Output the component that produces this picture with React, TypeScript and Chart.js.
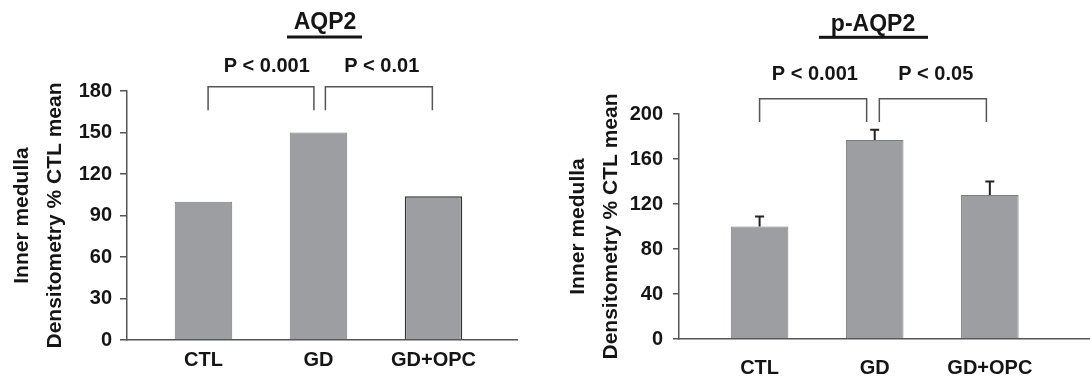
import React, { useEffect, useRef } from "react";
import { Chart, registerables } from "chart.js";

Chart.register(...registerables);

const categories = ["CTL", "GD", "GD+OPC"];

const aqp2Values = [100, 150, 104];
const aqp2Ticks = [0, 30, 60, 90, 120, 150, 180];
const aqp2Comparisons = [
  { from: 0.04, to: 0.96, top: 183, bottom: 166, label: "P < 0.001", labelX: 0.55 },
  { from: 1.06, to: 1.99, top: 183, bottom: 166, label: "P < 0.01", labelX: 1.55 },
];

const paqp2Values = [100, 177, 128];
const paqp2Errors = [9, 9, 12];
const paqp2Ticks = [0, 40, 80, 120, 160, 200];
const paqp2Comparisons = [
  { from: 0.0, to: 0.93, top: 213.6, bottom: 193, label: "P < 0.001", labelX: 0.48 },
  { from: 1.04, to: 1.97, top: 213.6, bottom: 193, label: "P < 0.05", labelX: 1.53 },
];

const yTitleLines = ["Inner medulla", "Densitometry % CTL mean"];

const FONT = "'Liberation Sans', Arial, Helvetica, sans-serif";

const annotPlugin = {
  id: "annot",
  afterDatasetsDraw(chart: any) {
    const o = chart.options.plugins.annot;
    if (!o) return;
    const { ctx, scales } = chart;
    const x = scales.x;
    const y = scales.y;
    ctx.save();
    // error bars
    if (o.errors) {
      ctx.strokeStyle = "#222";
      ctx.lineWidth = 2;
      o.values.forEach((v: number, i: number) => {
        const px = x.getPixelForValue(i);
        const y0 = y.getPixelForValue(v);
        const y1 = y.getPixelForValue(v + o.errors[i]);
        ctx.beginPath();
        ctx.moveTo(px, y0);
        ctx.lineTo(px, y1);
        ctx.moveTo(px - 4.5, y1);
        ctx.lineTo(px + 4.5, y1);
        ctx.stroke();
      });
    }
    // brackets
    ctx.strokeStyle = "#555";
    ctx.lineWidth = 1.5;
    ctx.fillStyle = "#151515";
    ctx.font = `bold 20px ${FONT}`;
    ctx.textAlign = "center";
    ctx.textBaseline = "middle";
    o.comparisons.forEach((c: any) => {
      const x0 = x.getPixelForValue(c.from);
      const x1 = x.getPixelForValue(c.to);
      const yt = y.getPixelForValue(c.top);
      const yb = y.getPixelForValue(c.bottom);
      ctx.beginPath();
      ctx.moveTo(x0, yb);
      ctx.lineTo(x0, yt);
      ctx.lineTo(x1, yt);
      ctx.lineTo(x1, yb);
      ctx.stroke();
      ctx.fillText(c.label, x.getPixelForValue(c.labelX), yt - o.labelGap);
    });
    // title
    ctx.font = `bold 23px ${FONT}`;
    ctx.fillText(o.title, o.titleX, o.titleY);
    ctx.fillRect(o.ulFrom, o.ulY - 1.5, o.ulTo - o.ulFrom, 3);
    ctx.restore();
  },
};

function makeConfig(p: any) {
  return {
    type: "bar",
    data: {
      datasets: [
        {
          data: p.values.map((v: number, i: number) => ({ x: i, y: v })),
          backgroundColor: "#9d9ea2",
          borderColor: p.borderColors,
          borderWidth: p.borderWidths,
          barPercentage: 0.5,
          categoryPercentage: 1,
        },
      ],
    },
    options: {
      responsive: false,
      animation: false,
      layout: { padding: { top: p.top, right: p.right, left: 0, bottom: 0 } },
      plugins: {
        legend: { display: false },
        tooltip: { enabled: false },
        title: { display: false },
        annot: p.annot,
      },
      scales: {
        x: {
          type: "linear",
          offset: false,
          min: p.xMin,
          max: p.xMax,
          afterBuildTicks: (s: any) => {
            s.ticks = categories.map((_, i) => ({ value: i }));
          },
          afterFit: (s: any) => {
            s.height = p.xHeight;
          },
          ticks: {
            callback: (v: number) => categories[v],
            font: { family: FONT, size: 20, weight: "bold" },
            color: "#151515",
            padding: p.xPad,
            maxRotation: 0,
            autoSkip: false,
          },
          grid: { display: false, drawTicks: false, offset: false },
          border: { display: true, color: "#555", width: 1.5 },
        },
        y: {
          min: 0,
          max: p.yMax,
          afterBuildTicks: (s: any) => {
            s.ticks = p.ticks.map((v: number) => ({ value: v }));
          },
          afterFit: (s: any) => {
            s.width = p.yWidth;
          },
          ticks: {
            font: { family: FONT, size: 20, weight: "bold" },
            color: "#151515",
            padding: p.yPad,
          },
          grid: {
            drawOnChartArea: false,
            drawTicks: true,
            tickLength: p.tickLen,
            color: "#555",
            lineWidth: 1.5,
          },
          border: { display: true, color: "#555", width: 1.5 },
          title: {
            display: true,
            text: yTitleLines,
            font: { family: FONT, size: 21, weight: "bold", lineHeight: 1.57 },
            color: "#151515",
            padding: { top: p.titlePad, bottom: 0 },
          },
        },
      },
    },
  };
}

function ChartCanvas({ config, left }: { config: any; left: number }) {
  const ref = useRef<HTMLCanvasElement>(null);
  useEffect(() => {
    const chart = new Chart(ref.current as HTMLCanvasElement, { ...config, plugins: [annotPlugin] });
    return () => chart.destroy();
  }, []);
  return (
    <canvas
      ref={ref}
      width={545}
      height={384}
      style={{ position: "absolute", left, top: 0, width: 545, height: 384 }}
    />
  );
}

export default function App() {
  const left = makeConfig({
    values: aqp2Values,
    ticks: aqp2Ticks,
    yMax: 180,
    xMin: -0.665,
    xMax: 2.726,
    top: 91,
    right: 28,
    xHeight: 44,
    yWidth: 127,
    xPad: 8,
    yPad: 8,
    tickLen: 7,
    titlePad: 5.5,
    borderColors: ["#7d7d7d", "#7d7d7d", "#333"],
    borderWidths: [1, 1, 1.5],
    annot: {
      values: aqp2Values,
      errors: null,
      comparisons: aqp2Comparisons,
      labelGap: 20,
      title: "AQP2",
      titleX: 325,
      titleY: 23,
      ulFrom: 287,
      ulTo: 362,
      ulY: 37,
    },
  });
  const right = makeConfig({
    values: paqp2Values,
    ticks: paqp2Ticks,
    yMax: 200,
    xMin: -0.7,
    xMax: 2.87,
    top: 114,
    right: 0,
    xHeight: 45,
    yWidth: 134,
    xPad: 17,
    yPad: 10,
    tickLen: 6,
    titlePad: 16.5,
    borderColors: ["#7d7d7d", "#7d7d7d", "#7d7d7d"],
    borderWidths: [1, 1, 1],
    annot: {
      values: paqp2Values,
      errors: paqp2Errors,
      comparisons: paqp2Comparisons,
      labelGap: 24,
      title: "p-AQP2",
      titleX: 328,
      titleY: 25,
      ulFrom: 274,
      ulTo: 383,
      ulY: 37.3,
    },
  });
  return (
    <div style={{ position: "absolute", left: 0, top: 0, width: 1090, height: 384, background: "#fff" }}>
      <ChartCanvas config={left} left={0} />
      <ChartCanvas config={right} left={545} />
    </div>
  );
}
